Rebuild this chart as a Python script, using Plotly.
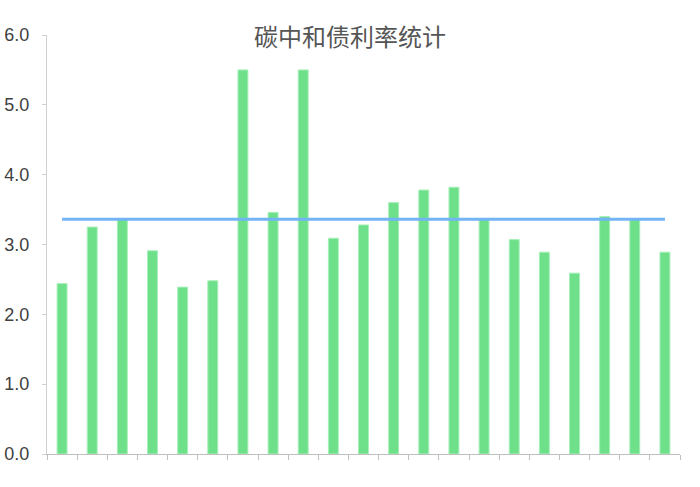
import plotly.graph_objects as go

# 碳中和债利率 (%)
bonds = [f"债{i}" for i in range(1, 22)]
rates = [2.44, 3.25, 3.37, 2.91, 2.39, 2.48, 5.50, 3.46, 5.50, 3.09, 3.28,
         3.60, 3.78, 3.82, 3.36, 3.07, 2.89, 2.59, 3.40, 3.36, 2.89]
avg_rate = [3.36] * len(bonds)

y_ticks = [0, 1, 2, 3, 4, 5, 6]

fig = go.Figure()

fig.add_trace(go.Bar(
    x=bonds, y=rates,
    marker=dict(color="#6ee08a", line=dict(color="#a8efba", width=1)),
    name="利率",
))

fig.add_trace(go.Scatter(
    x=bonds, y=avg_rate,
    mode="lines",
    line=dict(color="#72b4f5", width=3),
    name="平均",
))

fig.update_layout(
    width=700, height=487,
    margin=dict(l=47, r=20, t=35, b=33),
    paper_bgcolor="white",
    plot_bgcolor="white",
    showlegend=False,
    bargap=0.67,
    font=dict(family="Liberation Sans, Arial, sans-serif", color="#404040"),
    title=dict(text="碳中和债利率统计", x=0.5, xanchor="center",
               y=1 - 37.5 / 487, yanchor="middle",
               font=dict(family="Noto Sans CJK SC", size=24, color="#555555")),
)

fig.update_xaxes(
    showticklabels=False,
    showline=True, linecolor="#bfbfbf", linewidth=1,
    ticks="outside", ticklen=5, tickcolor="#bfbfbf",
    tickson="boundaries",
    showgrid=False, automargin=False,
)

fig.update_yaxes(
    range=[0, 6], tickvals=y_ticks, tickformat=".1f",
    showline=True, linecolor="#d0d0d0", linewidth=1,
    ticks="outside", ticklen=4, tickcolor="#d0d0d0",
    ticklabelstandoff=9,
    showgrid=False, zeroline=False, automargin=False,
    tickfont=dict(size=18, color="#404040"),
)

# drop the default body margin so the chart sits at the page corner
fig.write_html("out.html", config={"displayModeBar": False},
               post_script="document.body.style.margin='0';")
